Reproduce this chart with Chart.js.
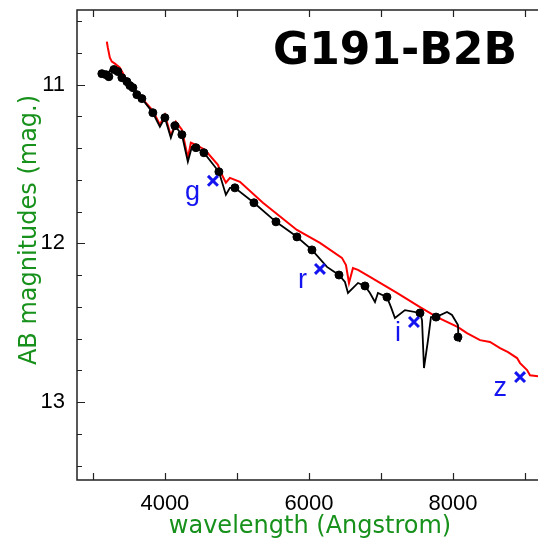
<!DOCTYPE html>
<html>
<head>
<meta charset="utf-8">
<script src="https://cdn.jsdelivr.net/npm/chart.js@4"></script>
<style>
  body { margin: 0; background: #fff; }
  canvas { display: block; }
</style>
</head>
<body>
<canvas id="sed-chart" width="538" height="543"></canvas>
<script>
// observed spectrum (black line)
const blackWave = [3125,3181,3236,3306,3375,3431,3486,3528,3583,3625,3681,3833,3931,4000,4083,4139,4236,4319,4375,4431,4542,4750,4847,4903,4972,5236,5542,5819,6042,6250,6417,6500,6542,6681,6778,6847,6917,6958,7083,7139,7194,7333,7542,7570,7597,7653,7694,7764,7917,7986,8069,8075,8097];
const blackMag = [10.931,10.950,10.912,10.905,10.924,10.956,10.987,11.013,11.032,11.063,11.088,11.177,11.265,11.208,11.334,11.259,11.315,11.486,11.391,11.397,11.429,11.549,11.694,11.650,11.650,11.744,11.864,11.953,12.041,12.148,12.199,12.243,12.312,12.249,12.268,12.312,12.369,12.312,12.338,12.401,12.470,12.420,12.438,12.483,12.785,12.609,12.464,12.464,12.432,12.451,12.514,12.590,12.621];

// binned points on the spectrum (black dots)
const dotWave = [3125,3181,3222,3292,3347,3403,3472,3514,3556,3611,3681,3833,4000,4139,4236,4431,4542,4750,4972,5236,5542,5833,6042,6417,6778,7083,7542,7764,8069];
const dotMag = [10.931,10.937,10.950,10.905,10.918,10.956,10.981,11.006,11.019,11.063,11.088,11.177,11.208,11.259,11.315,11.397,11.429,11.549,11.650,11.744,11.864,11.959,12.041,12.199,12.268,12.338,12.438,12.464,12.590];

// model spectrum (red line)
const redWave = [3194,3208,3236,3264,3306,3375,3444,3514,3583,3653,3722,3833,3931,4000,4083,4153,4236,4319,4361,4431,4556,4736,4792,4847,4903,5042,5361,5833,6153,6458,6514,6556,6611,6681,6847,7222,7542,7778,8069,8194,8375,8514,8653,8764,8889,8931,9028,9069,9181];
const redMag = [10.729,10.767,10.830,10.855,10.868,10.893,10.950,11.000,11.032,11.082,11.107,11.164,11.252,11.190,11.322,11.234,11.284,11.461,11.366,11.379,11.410,11.505,11.568,11.618,11.587,11.612,11.744,11.915,11.997,12.091,12.136,12.249,12.155,12.167,12.211,12.312,12.401,12.464,12.527,12.565,12.609,12.621,12.659,12.685,12.722,12.754,12.798,12.830,12.836];

// photometry (blue crosses)
const bandNames = ['g', 'r', 'i', 'z'];
const bandWave = [4667, 6153, 7458, 8931];
const bandMag = [11.606, 12.161, 12.495, 12.842];

// axes
const xTickValues = [3000, 4000, 5000, 6000, 7000, 8000, 9000];
const xTickLabels = [4000, 6000, 8000];
const yTickValues = [10.6, 10.8, 11, 11.2, 11.4, 11.6, 11.8, 12, 12.2, 12.4, 12.6, 12.8, 13, 13.2, 13.4];
const yTickLabels = [11, 12, 13];

const starName = 'G191-B2B';
const xTitle = 'wavelength (Angstrom)';
const yTitle = 'AB magnitudes (mag.)';

const pts = (xs, ys) => xs.map((x, i) => ({ x: x, y: ys[i] }));
const green = '#17911b';
const blue = '#1414f0';

// frame, inward ticks, titles and band letters
const decor = {
    id: 'decor',
    afterDraw(chart) {
        const ctx = chart.ctx;
        const a = chart.chartArea;
        const xs = chart.scales.x, ys = chart.scales.y;
        ctx.save();
        ctx.strokeStyle = '#222';
        ctx.lineWidth = 1.5;
        ctx.beginPath();
        ctx.moveTo(a.right + 2, a.top);
        ctx.lineTo(a.left, a.top);
        ctx.lineTo(a.left, a.bottom);
        ctx.lineTo(a.right + 2, a.bottom);
        ctx.stroke();

        ctx.lineWidth = 1.2;
        ctx.beginPath();
        xTickValues.forEach(v => {
            const px = Math.round(xs.getPixelForValue(v)) + 0.5;
            ctx.moveTo(px, a.bottom); ctx.lineTo(px, a.bottom - 7);
            ctx.moveTo(px, a.top); ctx.lineTo(px, a.top + 7);
        });
        yTickValues.forEach(v => {
            const py = Math.round(ys.getPixelForValue(v)) + 0.5;
            const len = yTickLabels.includes(v) ? 8 : 5;
            ctx.moveTo(a.left, py); ctx.lineTo(a.left + len, py);
        });
        ctx.stroke();

        // band letters
        ctx.fillStyle = blue;
        ctx.font = '27px "Liberation Sans", Arial, sans-serif';
        ctx.textAlign = 'right';
        ctx.textBaseline = 'alphabetic';
        bandNames.forEach((n, i) => {
            const px = xs.getPixelForValue(bandWave[i]);
            const py = ys.getPixelForValue(bandMag[i]);
            ctx.fillText(n, px - 13, py + 19);
        });

        // star name
        ctx.fillStyle = '#000';
        ctx.font = 'bold 44px "DejaVu Sans", sans-serif';
        ctx.textAlign = 'right';
        ctx.fillText(starName, 517, 64);

        // axis titles
        ctx.fillStyle = green;
        ctx.font = '24px "DejaVu Sans", sans-serif';
        ctx.textAlign = 'center';
        ctx.fillText(xTitle, 310, 533);
        ctx.translate(36, 230);
        ctx.rotate(-Math.PI / 2);
        ctx.fillText(yTitle, 0, 0);
        ctx.restore();
    }
};

Chart.register(decor);

const config = {
    type: 'scatter',
    data: {
        datasets: [
            {
                label: 'model',
                data: pts(redWave, redMag),
                showLine: true,
                borderColor: '#ff0000',
                borderWidth: 2,
                pointRadius: 0,
                order: 3
            },
            {
                label: 'spectrum',
                data: pts(blackWave, blackMag),
                showLine: true,
                borderColor: '#000',
                borderWidth: 1.8,
                pointRadius: 0,
                order: 2
            },
            {
                label: 'binned',
                data: pts(dotWave, dotMag),
                showLine: false,
                backgroundColor: '#000',
                borderColor: '#000',
                pointRadius: 4,
                order: 1
            },
            {
                label: 'photometry',
                data: pts(bandWave, bandMag),
                showLine: false,
                pointStyle: 'crossRot',
                pointRadius: 7,
                borderWidth: 3,
                borderColor: blue,
                order: 0
            }
        ]
    },
    options: {
        responsive: false,
        animation: false,
        layout: { autoPadding: false, padding: { top: 10, right: 0, left: 0, bottom: 0 } },
        plugins: {
            legend: { display: false },
            tooltip: { enabled: false }
        },
        scales: {
            x: {
                type: 'linear',
                min: 2780,
                max: 9180,
                grid: { display: false, drawTicks: false },
                border: { display: false },
                afterFit: s => { s.height = 63; s.paddingLeft = 0; s.paddingRight = 0; },
                afterBuildTicks: s => { s.ticks = xTickValues.map(v => ({ value: v })); },
                ticks: {
                    padding: 11,
                    color: '#000',
                    maxRotation: 0,
                    autoSkip: false,
                    font: { family: '"Liberation Sans", Arial, sans-serif', size: 22 },
                    callback: v => xTickLabels.includes(v) ? String(v) : ''
                }
            },
            y: {
                type: 'linear',
                reverse: true,
                min: 10.53,
                max: 13.49,
                grid: { display: false, drawTicks: false },
                border: { display: false },
                afterFit: s => { s.width = 77; s.paddingTop = 0; s.paddingBottom = 0; },
                afterBuildTicks: s => { s.ticks = yTickValues.map(v => ({ value: v })); },
                ticks: {
                    padding: 12,
                    color: '#000',
                    autoSkip: false,
                    font: { family: '"Liberation Sans", Arial, sans-serif', size: 22 },
                    callback: v => yTickLabels.includes(v) ? String(v) : ''
                }
            }
        }
    }
};

new Chart(document.getElementById('sed-chart').getContext('2d'), config);
</script>
</body>
</html>
